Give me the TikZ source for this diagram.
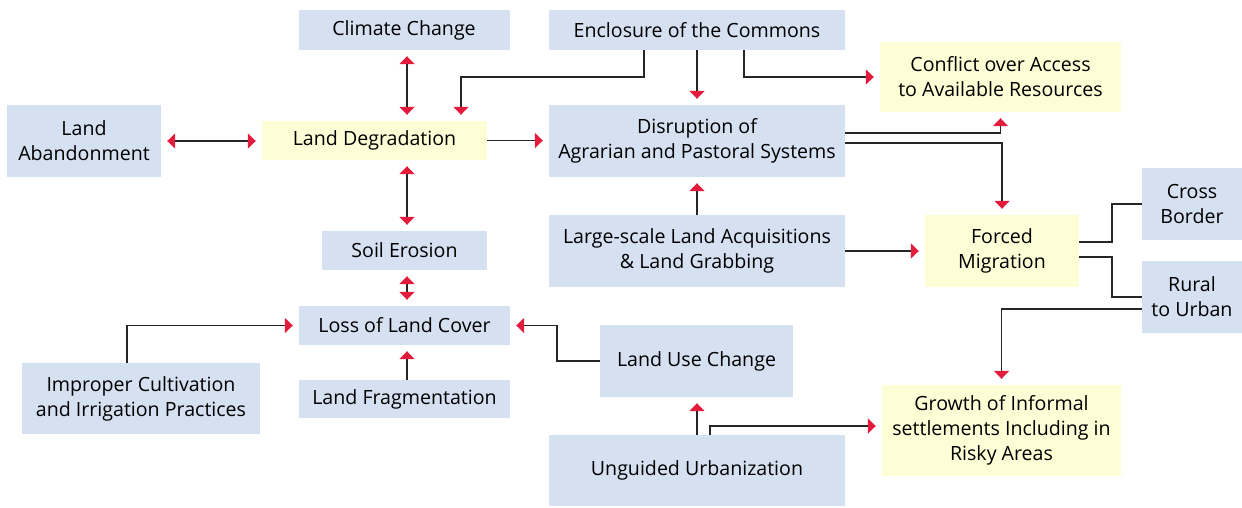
\documentclass[tikz,border=0pt]{standalone}
\usepackage{fontspec}
\setmainfont{Open Sans}
\usetikzlibrary{arrows.meta}

\definecolor{boxblue}{HTML}{D5E0F1}
\definecolor{boxyellow}{HTML}{FDFED5}
\definecolor{tipred}{HTML}{E31B3C}

\tikzset{
  bluebox/.style={fill=boxblue, align=center, inner sep=0pt},
  yelbox/.style={fill=boxyellow, align=center, inner sep=0pt},
  link/.style={line width=1.5pt, draw=black!85},
  arr/.style={link, -{Triangle[width=15pt,length=8pt,color=tipred]}, shorten >=6pt},
  dblarr/.style={link, {Triangle[width=15pt,length=8pt,color=tipred]}-{Triangle[width=15pt,length=8pt,color=tipred]}, shorten >=6pt, shorten <=6pt}
}

\begin{document}
\begin{tikzpicture}[x=1pt,y=-1pt,font=\fontsize{19.6}{25}\selectfont]
\useasboundingbox (0,0) rectangle (1242,507);

% Top row
\node[bluebox, minimum width=211pt, minimum height=40pt] (climate) at (404,30) {Climate Change};
\node[bluebox, minimum width=296pt, minimum height=40pt] (enclosure) at (697,30) {Enclosure of the Commons};
\node[yelbox, minimum width=241pt, minimum height=70pt] (conflict) at (1000.5,77) {Conflict over Access\\to Available Resources};

% Second row
\node[bluebox, minimum width=154pt, minimum height=72pt] (abandon) at (84,141) {Land\\Abandonment};
\node[yelbox, minimum width=225pt, minimum height=39pt] (degr) at (374.5,140.5) {Land Degradation};
\node[bluebox, minimum width=296pt, minimum height=72pt] (disrupt) at (697,141) {Disruption of\\Agrarian and Pastoral Systems};

% Middle row
\node[bluebox, minimum width=100pt, minimum height=72pt] (cross) at (1192,204) {Cross\\Border};
\node[yelbox, minimum width=154pt, minimum height=72pt] (forced) at (1002,251) {Forced\\Migration};
\node[bluebox, minimum width=165pt, minimum height=39pt] (soil) at (404.5,250.5) {Soil Erosion};
\node[bluebox, minimum width=296pt, minimum height=72pt] (large) at (697,251) {Large-scale Land Acquisitions\\\& Land Grabbing};
\node[bluebox, minimum width=100pt, minimum height=72pt] (rural) at (1192,297) {Rural\\to Urban};

% Lower rows
\node[bluebox, minimum width=211pt, minimum height=39pt] (loss) at (404.5,325.5) {Loss of Land Cover};
\node[bluebox, minimum width=193pt, minimum height=72pt] (landuse) at (696.5,361) {Land Use Change};
\node[bluebox, minimum width=238pt, minimum height=71pt] (improper) at (141,398.5) {Improper Cultivation\\and Irrigation Practices};
\node[bluebox, minimum width=211pt, minimum height=38pt] (frag) at (404.5,399) {Land Fragmentation};
\node[yelbox, minimum width=239pt, minimum height=91pt] (growth) at (1001.5,430.5) {Growth of Informal\\settlements Including in\\Risky Areas};
\node[bluebox, minimum width=296pt, minimum height=71pt] (unguided) at (697,470.5) {Unguided Urbanization};

% Links around Land Degradation
\draw[dblarr] ([xshift=3pt]climate.south) -- ([xshift=3pt]climate.south |- degr.north);
\draw[dblarr] (abandon.east) -- (abandon.east -| degr.west);
\draw[dblarr] ([xshift=32.5pt]degr.south) -- ([xshift=32.5pt]degr.south |- soil.north);
\draw[dblarr] ([xshift=2.5pt]soil.south) -- ([xshift=2.5pt]soil.south |- loss.north);
\draw[arr] (degr.east) -- (degr.east -| disrupt.west);

% Enclosure of the Commons
\draw[arr] ([xshift=-53pt]enclosure.south) -- ++(0,27) -| ([xshift=86.5pt]degr.north);
\draw[arr] (enclosure.south) -- (disrupt.north);
\draw[arr] ([xshift=47pt]enclosure.south) |- (conflict.west);

% Disruption and land acquisitions
\draw[arr] ([yshift=8pt]disrupt.east) -| (conflict.south);
\draw[arr] ([yshift=-2pt]disrupt.east) -| (forced.north);
\draw[arr] (large.north) -- (disrupt.south);
\draw[arr] (large.east) -- (forced.west);

% Forced Migration
\draw[link] ([yshift=9pt]forced.east) -- ++(33,0) |- (cross.west);
\draw[link] ([yshift=-6pt]forced.east) -- ++(33,0) |- (rural.west);
\draw[arr] ([yshift=-12pt]rural.west) -| (growth.north);

% Loss of Land Cover
\draw[arr] ([xshift=-14pt]improper.north) |- (loss.west);
\draw[arr] ([xshift=2.5pt]frag.north) -- ([xshift=2.5pt]frag.north |- loss.south);
\draw[arr] (landuse.west) -- ++(-43,0) |- (loss.east);

% Unguided Urbanization
\draw[arr] (unguided.north) -- (unguided.north |- landuse.south);
\draw[arr] ([xshift=13pt]unguided.north) |- ([yshift=4.5pt]growth.west);

\end{tikzpicture}
\end{document}
